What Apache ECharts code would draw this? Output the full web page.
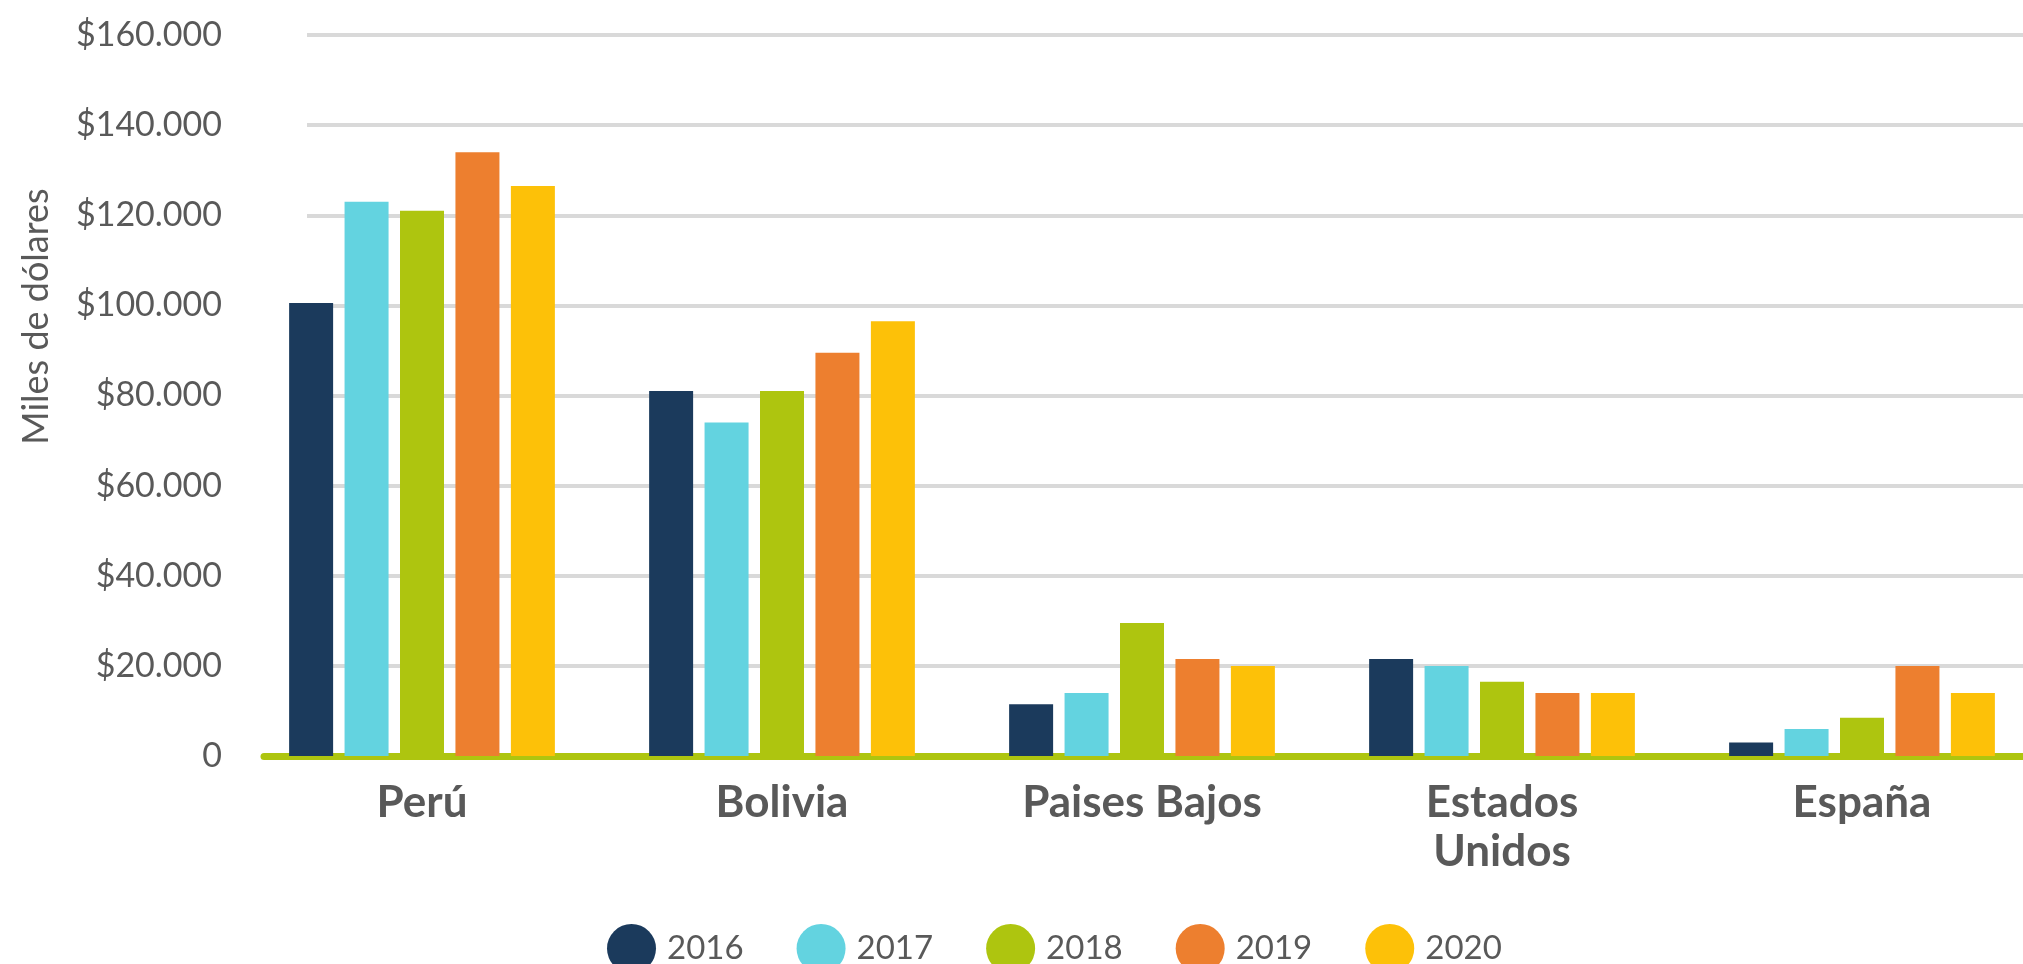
<!DOCTYPE html>
<html>
<head>
<meta charset="utf-8">
<script src="https://cdn.jsdelivr.net/npm/echarts@6/dist/echarts.min.js"></script>
<style>
  html, body { margin: 0; padding: 0; background: #fff; overflow: hidden; }
  /* el lienzo es algo más ancho que la ventana: el gráfico queda cortado a la derecha */
  #main { width: 2042px; height: 964px; }
</style>
</head>
<body>
<div id="main"></div>
<script>
// datos del gráfico
const countries = ["Perú", "Bolivia", "Paises Bajos", "Estados\nUnidos", "España"];
const years = ["2016", "2017", "2018", "2019", "2020"];
const v2016 = [100500, 81000, 11500, 21500, 3000];
const v2017 = [123000, 74000, 14000, 20000, 6000];
const v2018 = [121000, 81000, 29500, 16500, 8500];
const v2019 = [134000, 89500, 21500, 14000, 20000];
const v2020 = [126500, 96500, 20000, 14000, 14000];
const yTickLabels = ["0", "$20.000", "$40.000", "$60.000", "$80.000", "$100.000", "$120.000", "$140.000", "$160.000"];

const colors = ["#1B3A5C", "#63D3E0", "#AEC50F", "#ED7F2F", "#FDC108"];
const values = [v2016, v2017, v2018, v2019, v2020];
const font = "Lato";
const grey = "#595959";

let myChart = echarts.init(document.getElementById("main"));

let option = {
  animation: false,
  color: colors,
  legend: {
    data: years,
    icon: "circle",
    itemWidth: 49,
    itemHeight: 49,
    itemGap: 53,
    left: 602,
    top: 919,
    textStyle: { fontFamily: font, fontSize: 33, color: grey, padding: [0, 0, 0, 6] }
  },
  grid: [
    // barras
    { left: 242, right: 0, top: 35, bottom: 208 },
    // líneas de cuadrícula
    { left: 307, right: 0, top: 35, bottom: 298.125 },
    // línea del eje
    { left: 264, right: 0, top: 35, bottom: 208 }
  ],
  xAxis: [
    {
      type: "category",
      gridIndex: 0,
      data: countries,
      axisLine: { show: false },
      axisTick: { show: false },
      axisLabel: {
        margin: 22,
        fontFamily: font,
        fontSize: 44,
        fontWeight: "bold",
        lineHeight: 49,
        color: grey
      }
    },
    {
      type: "value",
      gridIndex: 1,
      min: 0,
      max: 1,
      show: false
    },
    {
      type: "value",
      gridIndex: 2,
      min: 0,
      max: 1,
      offset: 4,
      axisLine: { show: true, lineStyle: { color: "#AEC50F", width: 7 } },
      axisTick: { show: false },
      axisLabel: { show: false },
      splitLine: { show: false }
    }
  ],
  yAxis: [
    {
      type: "value",
      gridIndex: 0,
      min: 0,
      max: 160000,
      interval: 20000,
      name: "Miles de dólares",
      nameLocation: "middle",
      nameGap: 188,
      nameTextStyle: { fontFamily: font, fontSize: 36, color: grey, padding: [0, 0, 0, 158] },
      axisLine: { show: false },
      axisTick: { show: false },
      splitLine: { show: false },
      axisLabel: {
        margin: 20,
        fontFamily: font,
        fontSize: 34,
        color: grey,
        formatter: (val, idx) => yTickLabels[idx]
      }
    },
    {
      type: "value",
      gridIndex: 1,
      min: 20000,
      max: 160000,
      interval: 20000,
      axisLine: { show: false },
      axisTick: { show: false },
      axisLabel: { show: false },
      splitLine: { show: true, lineStyle: { color: "#D9D9D9", width: 4 } }
    },
    {
      type: "value",
      gridIndex: 2,
      show: false
    }
  ],
  series: years.map((y, i) => ({
    name: y,
    type: "bar",
    xAxisIndex: 0,
    yAxisIndex: 0,
    barWidth: 44,
    barGap: "26%",
    data: values[i]
  }))
};

myChart.setOption(option);
</script>
</body>
</html>
